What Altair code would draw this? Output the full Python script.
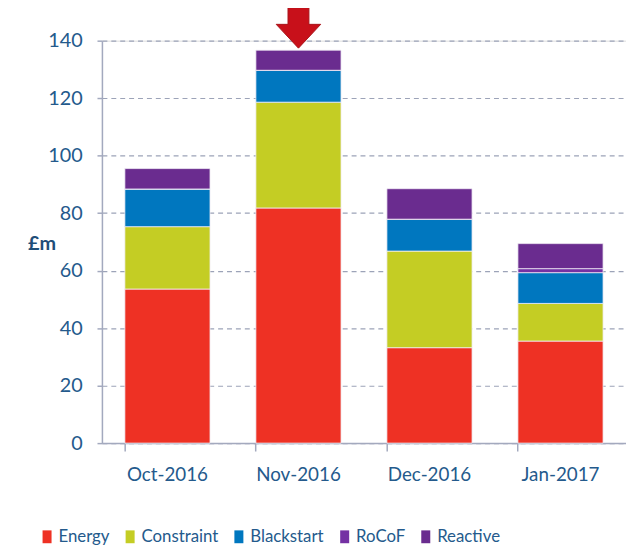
import altair as alt
import pandas as pd

months = ["Oct-2016", "Nov-2016", "Dec-2016", "Jan-2017"]
series = ["Energy", "Constraint", "Blackstart", "RoCoF", "Reactive"]
energy = [53.6, 81.8, 33.2, 35.5]
constraint = [21.7, 36.8, 33.6, 13.1]
blackstart = [13.1, 11.1, 11.1, 10.7]
rocof = [0.0, 0.0, 0.0, 1.4]
reactive = [7.1, 7.0, 10.6, 8.7]
colors = ["#EE3124", "#C4CD24", "#0077BF", "#7431A3", "#6A2C8F"]
highlight_month = "Nov-2016"

values = [energy, constraint, blackstart, rocof, reactive]
rows = []
for si, (s, vals) in enumerate(zip(series, values)):
    for m, v in zip(months, vals):
        rows.append({"month": m, "series": s, "value": v, "order": si})
df = pd.DataFrame(rows)

hi = months.index(highlight_month)
arrow_df = pd.DataFrame([{"month": highlight_month,
                          "total": sum(v[hi] for v in values)}])

FONT = "Lato"
TXT = "#245A8C"
AX = "#A3A9BE"

x_enc = alt.X("month:N", sort=months, title=None,
              scale=alt.Scale(paddingInner=0.35, paddingOuter=0.175),
              axis=alt.Axis(labelAngle=0, labelFont=FONT, labelFontSize=19,
                            labelColor=TXT, domainColor=AX, domainWidth=1.5,
                            tickColor=AX, tickSize=8, tickWidth=1.5,
                            bandPosition=0,
                            labelPadding=15, grid=False))

bars = alt.Chart(df).mark_bar(stroke="#F2EEF6", strokeWidth=0.8).encode(
    x=x_enc,
    y=alt.Y("value:Q", stack="zero",
            scale=alt.Scale(domain=[0, 140], nice=False),
            axis=alt.Axis(values=list(range(0, 141, 20)), title="£m",
                          titleAngle=0, titleX=-61, titleY=205,
                          titleAlign="center", titleBaseline="middle",
                          titleFont=FONT, titleFontSize=20, titleFontWeight="bold",
                          titleColor="#1F4E79",
                          labelFont=FONT, labelFontSize=20, labelColor=TXT,
                          labelPadding=15, tickSize=5, tickColor=AX, tickWidth=1.5,
                          domainColor=AX, domainWidth=1.5,
                          grid=True, gridColor="#9CA3B8", gridDash=[5, 4],
                          gridWidth=1.2)),
    color=alt.Color("series:N", sort=series,
                    scale=alt.Scale(domain=series, range=colors),
                    legend=alt.Legend(title=None, orient="none", direction="horizontal",
                                      legendX=-64, legendY=493,
                                      symbolType="M -0.7 -1 L 0.7 -1 L 0.7 1 L -0.7 1 Z",
                                      symbolSize=169, symbolStrokeWidth=0,
                                      labelFont=FONT, labelFontSize=17,
                                      labelColor=TXT, labelOffset=3,
                                      columnPadding=12)),
    order=alt.Order("order:Q", sort="ascending"),
)

arrow = alt.Chart(arrow_df).mark_point(
    shape="M -0.47 -0.91 L 0.47 -0.91 L 0.47 -0.16 L 1 -0.16 L 0 0.91 L -1 -0.16 L -0.47 -0.16 Z",
    size=2025, filled=True, fill="#C8101A", stroke="#A8141A", strokeWidth=1,
    opacity=1, yOffset=-22.5,
).encode(x=alt.X("month:N", sort=months), y=alt.Y("total:Q"))

chart = alt.layer(bars, arrow).properties(
    width=530, height=407,
    autosize=alt.AutoSizeParams(type="none"),
    padding={"left": 95, "top": 30, "right": 0, "bottom": 100},
).configure_view(stroke=None).configure(background="white")

chart.save("out.html", embed_options={"renderer": "svg", "actions": False})
